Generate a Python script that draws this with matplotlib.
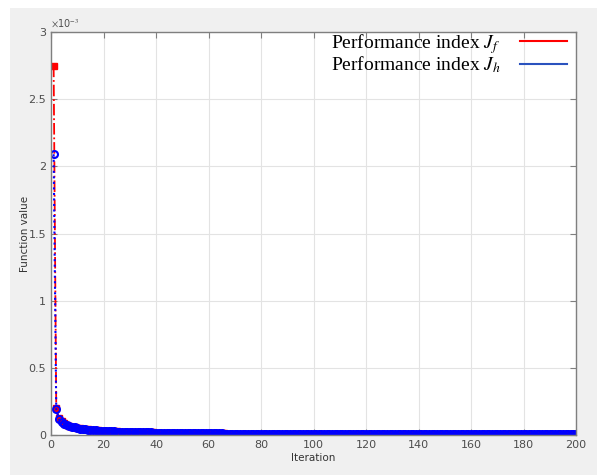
import matplotlib
matplotlib.use("Agg")
import matplotlib.pyplot as plt
from matplotlib.lines import Line2D
from matplotlib.patches import Rectangle

# performance index values, in units of 1e-3
iterations = list(range(1, 201))

jf_values = [
    2.750, 0.200, 0.128, 0.102, 0.087, 0.077, 0.069, 0.063, 0.058, 0.054,
    0.050, 0.047, 0.044, 0.042, 0.040, 0.038, 0.036, 0.035, 0.033, 0.032,
    0.031, 0.030, 0.029, 0.028, 0.027, 0.026, 0.025, 0.025, 0.024, 0.023,
    0.023, 0.022, 0.022, 0.021, 0.021, 0.020, 0.020, 0.019, 0.019, 0.018,
    0.018, 0.018, 0.017, 0.017, 0.017, 0.016, 0.016, 0.016, 0.015, 0.015,
    0.015, 0.015, 0.014, 0.014, 0.014, 0.014, 0.013, 0.013, 0.013, 0.013,
    0.013, 0.012, 0.012, 0.012, 0.012, 0.012, 0.011, 0.011, 0.011, 0.011,
    0.011, 0.011, 0.010, 0.010, 0.010, 0.010, 0.010, 0.010, 0.010, 0.009,
    0.009, 0.009, 0.009, 0.009, 0.009, 0.009, 0.009, 0.008, 0.008, 0.008,
    0.008, 0.008, 0.008, 0.008, 0.008, 0.008, 0.008, 0.007, 0.007, 0.007,
    0.007, 0.007, 0.007, 0.007, 0.007, 0.007, 0.007, 0.007, 0.007, 0.007,
    0.007, 0.006, 0.006, 0.006, 0.006, 0.006, 0.006, 0.006, 0.006, 0.006,
    0.006, 0.006, 0.006, 0.006, 0.006, 0.006, 0.006, 0.006, 0.006, 0.006,
    0.005, 0.005, 0.005, 0.005, 0.005, 0.005, 0.005, 0.005, 0.005, 0.005,
    0.005, 0.005, 0.005, 0.005, 0.005, 0.005, 0.005, 0.005, 0.005, 0.005,
    0.005, 0.005, 0.005, 0.005, 0.005, 0.005, 0.005, 0.005, 0.005, 0.005,
    0.004, 0.004, 0.004, 0.004, 0.004, 0.004, 0.004, 0.004, 0.004, 0.004,
    0.004, 0.004, 0.004, 0.004, 0.004, 0.004, 0.004, 0.004, 0.004, 0.004,
    0.004, 0.004, 0.004, 0.004, 0.004, 0.004, 0.004, 0.004, 0.004, 0.004,
    0.004, 0.004, 0.004, 0.004, 0.004, 0.004, 0.004, 0.004, 0.004, 0.004,
]

jh_values = [
    2.090, 0.190, 0.118, 0.096, 0.083, 0.074, 0.066, 0.060, 0.056, 0.052,
    0.048, 0.045, 0.042, 0.040, 0.038, 0.036, 0.035, 0.033, 0.032, 0.031,
    0.030, 0.029, 0.028, 0.027, 0.026, 0.025, 0.025, 0.024, 0.023, 0.023,
    0.022, 0.022, 0.021, 0.021, 0.020, 0.020, 0.019, 0.019, 0.018, 0.018,
    0.018, 0.017, 0.017, 0.017, 0.016, 0.016, 0.016, 0.015, 0.015, 0.015,
    0.015, 0.014, 0.014, 0.014, 0.014, 0.013, 0.013, 0.013, 0.013, 0.013,
    0.012, 0.012, 0.012, 0.012, 0.012, 0.011, 0.011, 0.011, 0.011, 0.011,
    0.011, 0.010, 0.010, 0.010, 0.010, 0.010, 0.010, 0.010, 0.009, 0.009,
    0.009, 0.009, 0.009, 0.009, 0.009, 0.009, 0.008, 0.008, 0.008, 0.008,
    0.008, 0.008, 0.008, 0.008, 0.008, 0.008, 0.007, 0.007, 0.007, 0.007,
    0.007, 0.007, 0.007, 0.007, 0.007, 0.007, 0.007, 0.007, 0.007, 0.007,
    0.006, 0.006, 0.006, 0.006, 0.006, 0.006, 0.006, 0.006, 0.006, 0.006,
    0.006, 0.006, 0.006, 0.006, 0.006, 0.006, 0.006, 0.006, 0.006, 0.006,
    0.005, 0.005, 0.005, 0.005, 0.005, 0.005, 0.005, 0.005, 0.005, 0.005,
    0.005, 0.005, 0.005, 0.005, 0.005, 0.005, 0.005, 0.005, 0.005, 0.005,
    0.005, 0.005, 0.005, 0.005, 0.005, 0.005, 0.005, 0.005, 0.005, 0.005,
    0.004, 0.004, 0.004, 0.004, 0.004, 0.004, 0.004, 0.004, 0.004, 0.004,
    0.004, 0.004, 0.004, 0.004, 0.004, 0.004, 0.004, 0.004, 0.004, 0.004,
    0.004, 0.004, 0.004, 0.004, 0.004, 0.004, 0.004, 0.004, 0.004, 0.004,
    0.004, 0.004, 0.004, 0.004, 0.004, 0.004, 0.004, 0.004, 0.004, 0.004,
]

x_ticks = list(range(0, 201, 20))
y_ticks = [0, 0.5, 1, 1.5, 2, 2.5, 3]
y_tick_labels = ["0", "0.5", "1", "1.5", "2", "2.5", "3"]
legend_labels = [r"Performance index $J_f$", r"Performance index $J_h$"]

plt.rcParams["mathtext.fontset"] = "stix"

fig = plt.figure(figsize=(5.97, 4.75), dpi=100, facecolor="white")
# matlab-style grey window behind the axes
fig.patches.append(Rectangle((10 / 597, 0), 1 - 10 / 597, 1 - 8 / 475,
                             transform=fig.transFigure, facecolor="#f0f0f0",
                             edgecolor="none", zorder=-10))

ax = fig.add_axes([51 / 597, 40 / 475, 525 / 597, 403 / 475])
ax.set_facecolor("white")

ax.plot(iterations, jf_values, color="red", linestyle="-.", linewidth=1.3,
        marker="s", markersize=4, markerfacecolor="red",
        markeredgecolor="red")
ax.plot(iterations, jh_values, color="blue", linestyle=":", linewidth=1.5,
        marker="o", markersize=5, markerfacecolor="none",
        markeredgecolor="blue", markeredgewidth=1.5)

ax.set_xlim(0, 200)
ax.set_ylim(0, 3)
ax.set_xticks(x_ticks)
ax.set_yticks(y_ticks)
ax.set_yticklabels(y_tick_labels)
ax.grid(True, color="#e3e3e3", linewidth=0.8)
ax.set_axisbelow(True)
ax.tick_params(direction="in", top=True, right=True, length=4,
               colors="#7f7f7f", labelcolor="#4d4d4d", labelsize=8)
for sp in ax.spines.values():
    sp.set_color("#7f7f7f")
    sp.set_linewidth(1.0)

ax.set_xlabel("Iteration", fontsize=7.5, color="#333333", labelpad=2)
ax.set_ylabel("Function value", fontsize=7.5, color="#333333", labelpad=-1)
ax.text(0.0, 1.006, r"$\times$10$^{-3}$", transform=ax.transAxes,
        fontsize=7, color="#4d4d4d", ha="left", va="bottom",
        fontfamily="DejaVu Sans")

handles = [Line2D([], [], color="red", linewidth=1.5),
           Line2D([], [], color="#2a52be", linewidth=1.5)]
ax.legend(handles, legend_labels, loc="upper right", frameon=False,
          markerfirst=False, prop={"family": "Liberation Serif", "size": 14},
          handlelength=2.4, handletextpad=1.0, labelspacing=-0.05,
          borderaxespad=0.0, bbox_to_anchor=(0.997, 1.02))

fig.savefig("out.png", dpi=100)
